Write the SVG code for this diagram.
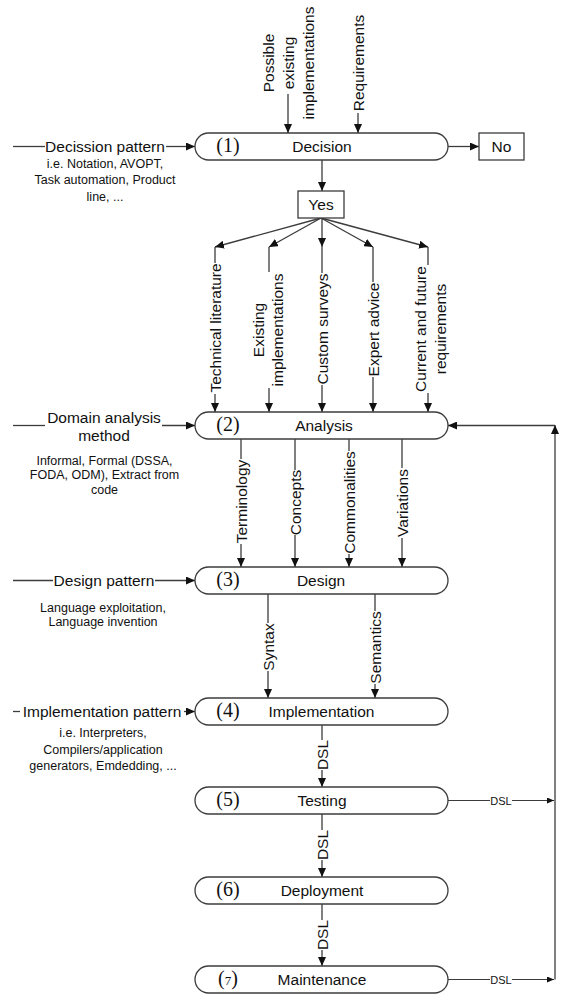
<svg xmlns="http://www.w3.org/2000/svg" width="570" height="994" viewBox="0 0 570 994">
<style>
.bg{fill:#fff}
.n{fill:#fff;stroke:#3c3c3c;stroke-width:1.3}
.c{fill:none;stroke:#3c3c3c;stroke-width:1.3}
.c1{fill:none;stroke:#3c3c3c;stroke-width:1}
.t{font-family:"Liberation Sans",Arial,sans-serif;font-size:15.5px;fill:#111}
.s{font-family:"Liberation Sans",Arial,sans-serif;font-size:12.5px;fill:#111}
.x{font-family:"Liberation Sans",Arial,sans-serif;font-size:11px;fill:#111}
.num{font-family:"Liberation Serif","Times New Roman",serif;font-size:20px;fill:#111}
</style>
<defs>
<marker id="a" markerUnits="userSpaceOnUse" markerWidth="9" markerHeight="8" refX="9" refY="4" orient="auto"><path d="M0,0 L9,4 L0,8 z" fill="#111"/></marker>
<marker id="as" markerUnits="userSpaceOnUse" markerWidth="7" markerHeight="6" refX="7" refY="3" orient="auto"><path d="M0,0 L7,3 L0,6 z" fill="#111"/></marker>
</defs>
<rect class="bg" x="0" y="0" width="570" height="994"/>

<g id="connectors">
  <!-- inputs to Decision -->
  <line class="c" x1="13" y1="146.5" x2="45" y2="146.5"/>
  <line class="c" x1="166" y1="146.5" x2="195" y2="146.5" marker-end="url(#a)"/>
  <text class="t" x="105" y="152" text-anchor="middle">Decission pattern</text>
  <line class="c" x1="288" y1="94" x2="288" y2="133" marker-end="url(#a)"/>
  <text class="t" transform="translate(288,63) rotate(-90)" text-anchor="middle"><tspan x="0" y="-14.5">Possible</tspan><tspan x="0" y="5.5">existing</tspan><tspan x="0" y="25.5">implementations</tspan></text>
  <line class="c" x1="358" y1="113" x2="358" y2="133" marker-end="url(#a)"/>
  <text class="t" transform="translate(358,63) rotate(-90)" text-anchor="middle" y="5.5">Requirements</text>
  <!-- Decision outputs -->
  <line class="c" x1="448" y1="146.5" x2="479" y2="146.5" marker-end="url(#a)"/>
  <line class="c" x1="322" y1="160" x2="322" y2="191" marker-end="url(#a)"/>
  <!-- Yes fan -->
  <line class="c" x1="321" y1="218" x2="215" y2="247" marker-end="url(#a)"/>
  <line class="c" x1="321" y1="218" x2="269" y2="247" marker-end="url(#a)"/>
  <line class="c" x1="322" y1="218" x2="322" y2="247" marker-end="url(#a)"/>
  <line class="c" x1="321" y1="218" x2="373" y2="247" marker-end="url(#a)"/>
  <line class="c" x1="321" y1="218" x2="428" y2="247" marker-end="url(#a)"/>
  <line class="c" x1="215" y1="247" x2="215" y2="263"/>
  <line class="c" x1="215" y1="394" x2="215" y2="412" marker-end="url(#a)"/>
  <text class="t" transform="translate(215,328) rotate(-90)" text-anchor="middle" y="5.5">Technical literature</text>
  <line class="c" x1="269" y1="247" x2="269" y2="272"/>
  <line class="c" x1="269" y1="388" x2="269" y2="412" marker-end="url(#a)"/>
  <text class="t" transform="translate(268,330) rotate(-90)" text-anchor="middle"><tspan x="0" y="-4.5">Existing</tspan><tspan x="0" y="14.5">implementations</tspan></text>
  <line class="c" x1="322" y1="247" x2="322" y2="273"/>
  <line class="c" x1="322" y1="385" x2="322" y2="412" marker-end="url(#a)"/>
  <text class="t" transform="translate(322,329) rotate(-90)" text-anchor="middle" y="5.5">Custom surveys</text>
  <line class="c" x1="373" y1="247" x2="373" y2="282"/>
  <line class="c" x1="373" y1="377" x2="373" y2="412" marker-end="url(#a)"/>
  <text class="t" transform="translate(373,329.5) rotate(-90)" text-anchor="middle" y="5.5">Expert advice</text>
  <line class="c" x1="428" y1="247" x2="428" y2="265"/>
  <line class="c" x1="428" y1="393" x2="428" y2="412" marker-end="url(#a)"/>
  <text class="t" transform="translate(430,329) rotate(-90)" text-anchor="middle"><tspan x="0" y="-4.5">Current and future</tspan><tspan x="0" y="15.5">requirements</tspan></text>
  <!-- Domain analysis method -->
  <line class="c" x1="13" y1="425.5" x2="45" y2="425.5"/>
  <line class="c" x1="162" y1="425.5" x2="195" y2="425.5" marker-end="url(#a)"/>
  <text class="t" text-anchor="middle"><tspan x="104" y="423">Domain analysis</tspan><tspan x="104" y="441">method</tspan></text>
  <!-- Analysis to Design -->
  <line class="c" x1="241" y1="439" x2="241" y2="459"/>
  <line class="c" x1="241" y1="544" x2="241" y2="567" marker-end="url(#a)"/>
  <text class="t" transform="translate(241,501.5) rotate(-90)" text-anchor="middle" y="5.5">Terminology</text>
  <line class="c" x1="295" y1="439" x2="295" y2="470"/>
  <line class="c" x1="295" y1="535" x2="295" y2="567" marker-end="url(#a)"/>
  <text class="t" transform="translate(295,502.5) rotate(-90)" text-anchor="middle" y="5.5">Concepts</text>
  <line class="c" x1="349" y1="439" x2="349" y2="451"/>
  <line class="c" x1="349" y1="554" x2="349" y2="567" marker-end="url(#a)"/>
  <text class="t" transform="translate(349,502.5) rotate(-90)" text-anchor="middle" y="5.5">Commonalities</text>
  <line class="c" x1="402" y1="439" x2="402" y2="468"/>
  <line class="c" x1="402" y1="538" x2="402" y2="567" marker-end="url(#a)"/>
  <text class="t" transform="translate(402,503) rotate(-90)" text-anchor="middle" y="5.5">Variations</text>
  <!-- Design pattern -->
  <line class="c" x1="13" y1="580.5" x2="53" y2="580.5"/>
  <line class="c" x1="155" y1="580.5" x2="195" y2="580.5" marker-end="url(#a)"/>
  <text class="t" x="104" y="586" text-anchor="middle">Design pattern</text>
  <!-- Design to Implementation -->
  <line class="c" x1="268" y1="594" x2="268" y2="623"/>
  <line class="c" x1="268" y1="671" x2="268" y2="698" marker-end="url(#a)"/>
  <text class="t" transform="translate(268,647) rotate(-90)" text-anchor="middle" y="5.5">Syntax</text>
  <line class="c" x1="375" y1="594" x2="375" y2="611"/>
  <line class="c" x1="375" y1="684" x2="375" y2="698" marker-end="url(#a)"/>
  <text class="t" transform="translate(375,647.5) rotate(-90)" text-anchor="middle" y="5.5">Semantics</text>
  <!-- Implementation pattern -->
  <line class="c" x1="13" y1="711.5" x2="20" y2="711.5"/>
  <line class="c" x1="184" y1="711.5" x2="195" y2="711.5" marker-end="url(#a)"/>
  <text class="t" x="102" y="717" text-anchor="middle">Implementation pattern</text>
  <!-- DSL chain -->
  <line class="c" x1="322" y1="725" x2="322" y2="740"/>
  <line class="c" x1="322" y1="770" x2="322" y2="787" marker-end="url(#a)"/>
  <text class="t" transform="translate(322,755) rotate(-90)" text-anchor="middle" y="5.5">DSL</text>
  <line class="c" x1="322" y1="814" x2="322" y2="830"/>
  <line class="c" x1="322" y1="860" x2="322" y2="877" marker-end="url(#a)"/>
  <text class="t" transform="translate(322,845) rotate(-90)" text-anchor="middle" y="5.5">DSL</text>
  <line class="c" x1="322" y1="904" x2="322" y2="920"/>
  <line class="c" x1="322" y1="950" x2="322" y2="966" marker-end="url(#a)"/>
  <text class="t" transform="translate(322,935) rotate(-90)" text-anchor="middle" y="5.5">DSL</text>
  <!-- feedback -->
  <line class="c1" x1="448" y1="800.5" x2="490" y2="800.5"/>
  <line class="c1" x1="512" y1="800.5" x2="554" y2="800.5" marker-end="url(#as)"/>
  <text class="x" x="501" y="804.5" text-anchor="middle">DSL</text>
  <line class="c1" x1="448" y1="979.5" x2="490" y2="979.5"/>
  <line class="c1" x1="512" y1="979.5" x2="554" y2="979.5" marker-end="url(#as)"/>
  <text class="x" x="501" y="983.5" text-anchor="middle">DSL</text>
  <line class="c" x1="555" y1="979.5" x2="555" y2="425" marker-end="url(#a)"/>
  <line class="c" x1="555" y1="425.5" x2="448" y2="425.5" marker-end="url(#a)"/>
</g>

<g id="notes">
  <text class="s" text-anchor="middle"><tspan x="105" y="167.5">i.e. Notation, AVOPT,</tspan><tspan x="105" y="184">Task automation, Product</tspan><tspan x="105" y="200.5">line, ...</tspan></text>
  <text class="s" text-anchor="middle"><tspan x="104.5" y="464.5">Informal, Formal (DSSA,</tspan><tspan x="104.5" y="479">FODA, ODM), Extract from</tspan><tspan x="104.5" y="493.5">code</tspan></text>
  <text class="s" text-anchor="middle"><tspan x="103" y="611.5">Language exploitation,</tspan><tspan x="103" y="625.5">Language invention</tspan></text>
  <text class="s" text-anchor="middle"><tspan x="103" y="737">i.e. Interpreters,</tspan><tspan x="103" y="753.5">Compilers/application</tspan><tspan x="103" y="770">generators, Emdedding, ...</tspan></text>
</g>

<g id="n1">
  <path class="n" d="M208.5,133 H434.5 A13.5,13.5 0 0 1 434.5,160 H208.5 A13.5,13.5 0 0 1 208.5,133 Z"/>
  <text class="num" x="228" y="152" text-anchor="middle">(1)</text>
  <text class="t" x="322" y="152" text-anchor="middle">Decision</text>
</g>
<g id="no">
  <rect class="n" x="479" y="133" width="45" height="27"/>
  <text class="t" x="501.5" y="152" text-anchor="middle">No</text>
</g>
<g id="yes">
  <rect class="n" x="298" y="191" width="46" height="27"/>
  <text class="t" x="321" y="210" text-anchor="middle">Yes</text>
</g>
<g id="n2">
  <path class="n" d="M208.5,412 H434.5 A13.5,13.5 0 0 1 434.5,439 H208.5 A13.5,13.5 0 0 1 208.5,412 Z"/>
  <text class="num" x="228" y="431" text-anchor="middle">(2)</text>
  <text class="t" x="324" y="431" text-anchor="middle">Analysis</text>
</g>
<g id="n3">
  <path class="n" d="M208.5,567 H434.5 A13.5,13.5 0 0 1 434.5,594 H208.5 A13.5,13.5 0 0 1 208.5,567 Z"/>
  <text class="num" x="228" y="586" text-anchor="middle">(3)</text>
  <text class="t" x="321" y="586" text-anchor="middle">Design</text>
</g>
<g id="n4">
  <path class="n" d="M208.5,698 H434.5 A13.5,13.5 0 0 1 434.5,725 H208.5 A13.5,13.5 0 0 1 208.5,698 Z"/>
  <text class="num" x="228" y="717" text-anchor="middle">(4)</text>
  <text class="t" x="321.5" y="717" text-anchor="middle">Implementation</text>
</g>
<g id="n5">
  <path class="n" d="M208.5,787 H434.5 A13.5,13.5 0 0 1 434.5,814 H208.5 A13.5,13.5 0 0 1 208.5,787 Z"/>
  <text class="num" x="228" y="806" text-anchor="middle">(5)</text>
  <text class="t" x="322" y="806" text-anchor="middle">Testing</text>
</g>
<g id="n6">
  <path class="n" d="M208.5,877 H434.5 A13.5,13.5 0 0 1 434.5,904 H208.5 A13.5,13.5 0 0 1 208.5,877 Z"/>
  <text class="num" x="228" y="896" text-anchor="middle">(6)</text>
  <text class="t" x="322" y="896" text-anchor="middle">Deployment</text>
</g>
<g id="n7">
  <path class="n" d="M208.5,966 H434.5 A13.5,13.5 0 0 1 434.5,993 H208.5 A13.5,13.5 0 0 1 208.5,966 Z"/>
  <text class="num" x="228" y="985" text-anchor="middle">(<tspan font-size="13px">7</tspan>)</text>
  <text class="t" x="322" y="985" text-anchor="middle">Maintenance</text>
</g>
</svg>
